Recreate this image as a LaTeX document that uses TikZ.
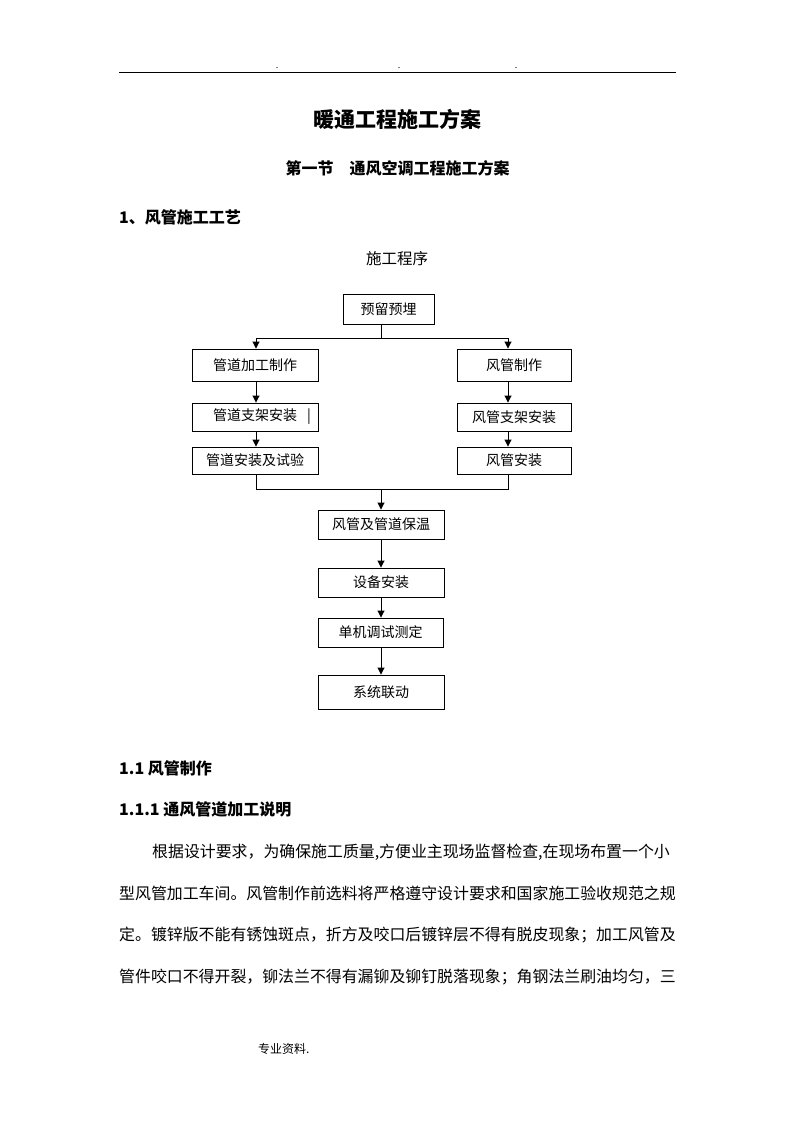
\documentclass[tikz,border=0pt]{standalone}
\usepackage{fontspec}
\setmainfont{Noto Sans CJK SC}
\usetikzlibrary{arrows.meta}
\XeTeXlinebreaklocale "zh"
\XeTeXlinebreakskip=0pt plus 1pt
\begin{document}
\begin{tikzpicture}[x=1pt,y=-1pt,
  stepbox/.style={draw, line width=0.9pt, inner sep=0pt, font=\fontsize{14}{16}\selectfont},
  conn/.style={line width=0.9pt},
  arr/.style={line width=0.9pt, -{Triangle[length=7pt,width=7pt]}},
  body/.style={anchor=west, inner sep=0pt, font=\fontsize{15.9}{18}\selectfont},
  head/.style={anchor=west, inner sep=0pt, font=\fontsize{16}{18}\selectfont\bfseries}]
\useasboundingbox (0,0) rectangle (794,1123);
% header
\coordinate (hl) at (119,72);
\coordinate (hr) at (676,72);
\draw[line width=0.9pt] (hl) -- (hr);
\fill (277,67.5) circle (0.6) (399,67.5) circle (0.6) (516,67.5) circle (0.6);
% titles
\node[inner sep=0pt, font=\fontsize{21}{24}\selectfont\bfseries] (title) at (397,119) {暖通工程施工方案};
\node[inner sep=0pt, font=\fontsize{16}{18}\selectfont\bfseries] (sec) at (397.5,168) {第一节　通风空调工程施工方案};
\node[head] (h1) at (119,217) {1、风管施工工艺};
\node[inner sep=0pt, font=\fontsize{15.5}{18}\selectfont] (cx) at (397,259) {施工程序};
% flowchart
\node[stepbox, minimum width=91pt, minimum height=30pt] (top) at (388.5,309) {预留预埋};
\node[stepbox, minimum width=126pt, minimum height=32pt] (l1) at (255,365) {管道加工制作};
\node[stepbox, minimum width=126pt, minimum height=28pt] (l2) at (255,417) {\makebox[84pt]{管道支架安装}\rlap{\hspace{10pt}|}};
\node[stepbox, minimum width=126pt, minimum height=27pt] (l3) at (255,460.5) {管道安装及试验};
\node[stepbox, minimum width=114pt, minimum height=32pt] (r1) at (514,365) {风管制作};
\node[stepbox, minimum width=114pt, minimum height=28pt] (r2) at (514,417) {风管支架安装};
\node[stepbox, minimum width=114pt, minimum height=27pt] (r3) at (514,460.5) {风管安装};
\node[stepbox, minimum width=126pt, minimum height=29pt] (m1) at (381,524.5) {风管及管道保温};
\node[stepbox, minimum width=126pt, minimum height=29pt] (m2) at (381,582.5) {设备安装};
\node[stepbox, minimum width=125pt, minimum height=29pt] (m3) at (380.5,632.5) {单机调试测定};
\node[stepbox, minimum width=126pt, minimum height=34pt] (m4) at (381,692) {系统联动};
\coordinate (split) at (381,338);
\coordinate (lx) at (256,338);
\coordinate (rx) at (508,338);
\coordinate (join) at (381,489);
\draw[conn] (top.south -| split) -- (split);
\draw[arr] (split) -| (l1.north -| lx);
\draw[arr] (split) -| (r1.north -| rx);
\draw[arr] (l1.south -| lx) -- (l2.north -| lx);
\draw[arr] (l2.south -| lx) -- (l3.north -| lx);
\draw[arr] (r1.south -| rx) -- (r2.north -| rx);
\draw[arr] (r2.south -| rx) -- (r3.north -| rx);
\draw[conn] (l3.south -| lx) |- (join);
\draw[conn] (r3.south -| rx) |- (join);
\draw[arr] (join) -- (m1.north);
\draw[arr] (m1.south) -- (m2.north);
\draw[arr] (m2.south) -- (m3.north -| m2.south);
\draw[arr] (m3.south -| m2.south) -- (m4.north);
% text
\node[head] (h2) at (119,768) {1.1 风管制作};
\node[head] (h3) at (119,809) {1.1.1 通风管道加工说明};
\node[body] (p1) at (152,852) {\hbox to 524pt{根据设计要求，为确保施工质量,方便业主现场监督检查,在现场布置一个小}};
\node[body] (p2) at (119,893) {\hbox to 557pt{型风管加工车间。风管制作前选料将严格遵守设计要求和国家施工验收规范之规}};
\node[body] (p3) at (119,935) {\hbox to 557pt{定。镀锌版不能有锈蚀斑点，折方及咬口后镀锌层不得有脱皮现象；加工风管及}};
\node[body] (p4) at (119,977) {\hbox to 557pt{管件咬口不得开裂，铆法兰不得有漏铆及铆钉脱落现象；角钢法兰刷油均匀，三}};
\node[anchor=west, inner sep=0pt, font=\fontsize{12}{14}\selectfont] (foot) at (258,1049) {专业资料.};
\end{tikzpicture}
\end{document}
